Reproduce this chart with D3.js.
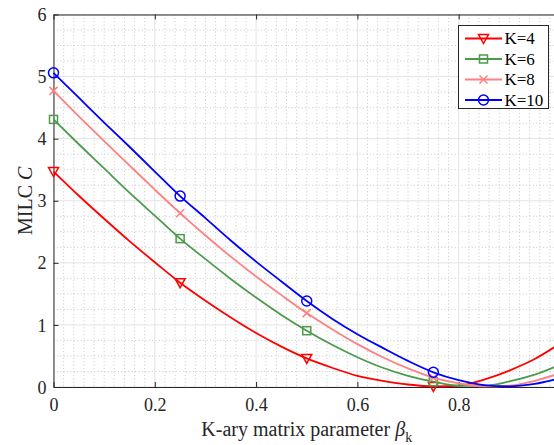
<!DOCTYPE html>
<html>
<head>
<meta charset="utf-8">
<script src="https://cdn.jsdelivr.net/npm/d3@7/dist/d3.min.js"></script>
<style>
  body { margin: 0; background: #fff; }
  svg { display: block; font-family: "Liberation Serif", "Times New Roman", serif; }
</style>
</head>
<body>
<svg id="chart" width="554" height="445"></svg>
<script>
// Sampled K-ary matrix parameter values
const betas = [0, 0.05, 0.1, 0.15, 0.2, 0.25, 0.3, 0.35, 0.4, 0.45, 0.5,
               0.55, 0.6, 0.65, 0.7, 0.75, 0.8, 0.85, 0.9, 0.95, 1.0];

// MILC C for each K
const milcK4  = [3.47, 3.08, 2.71, 2.35, 2.01, 1.68, 1.39, 1.12, 0.87, 0.65, 0.46,
                 0.31, 0.18, 0.10, 0.04, 0.01, 0.02, 0.12, 0.265, 0.45, 0.70];
const milcK6  = [4.31, 3.91, 3.52, 3.13, 2.76, 2.39, 2.06, 1.74, 1.44, 1.16, 0.907,
                 0.68, 0.48, 0.31, 0.18, 0.085, 0.02, 0.02, 0.09, 0.20, 0.36];
const milcK8  = [4.77, 4.36, 3.96, 3.57, 3.18, 2.80, 2.44, 2.10, 1.78, 1.48, 1.19,
                 0.93, 0.69, 0.48, 0.30, 0.15, 0.06, 0.01, 0.02, 0.10, 0.22];
const milcK10 = [5.06, 4.66, 4.26, 3.87, 3.47, 3.075, 2.72, 2.36, 2.02, 1.70, 1.385,
                 1.10, 0.85, 0.63, 0.42, 0.237, 0.11, 0.03, 0.01, 0.05, 0.14];

const seriesNames = ["K=4", "K=6", "K=8", "K=10"];
const seriesColors = ["#ff0000", "#4c9a4c", "#ff8080", "#0000ff"];
const seriesMarkers = ["triangleDown", "square", "cross", "circle"];
const seriesValues = [milcK4, milcK6, milcK8, milcK10];

const xTicks = [0, 0.2, 0.4, 0.6, 0.8, 1];
const xTickLabels = ["0", "0.2", "0.4", "0.6", "0.8", ""];
const yTicks = [0, 1, 2, 3, 4, 5, 6];
const markerEvery = 5;

const svg = d3.select("#chart");
const plotLeft = 53.5, plotRight = 560, plotTop = 14.5, plotBottom = 387;

const x = d3.scaleLinear().domain([0, 1]).range([plotLeft, plotRight]);
const y = d3.scaleLinear().domain([0, 6]).range([plotBottom, plotTop]);

// minor grid (dotted)
const minorX = d3.range(0, 1.0001, 0.02).filter(v => Math.abs(v * 5 - Math.round(v * 5)) > 1e-6);
const minorY = d3.range(0, 6.0001, 0.25).filter(v => Math.abs(v - Math.round(v)) > 1e-6);
const grid = svg.append("g");
grid.selectAll("line.mx").data(minorX).join("line")
  .attr("x1", d => x(d)).attr("x2", d => x(d)).attr("y1", plotTop).attr("y2", plotBottom)
  .attr("stroke", "#c8c8c8").attr("stroke-width", 1).attr("stroke-dasharray", "1,2.4");
grid.selectAll("line.my").data(minorY).join("line")
  .attr("y1", d => y(d)).attr("y2", d => y(d)).attr("x1", plotLeft).attr("x2", plotRight)
  .attr("stroke", "#c8c8c8").attr("stroke-width", 1).attr("stroke-dasharray", "1,2.4");

// major grid (solid)
grid.selectAll("line.gx").data(xTicks).join("line")
  .attr("x1", d => x(d)).attr("x2", d => x(d)).attr("y1", plotTop).attr("y2", plotBottom)
  .attr("stroke", "#e3e3e3").attr("stroke-width", 1);
grid.selectAll("line.gy").data(yTicks).join("line")
  .attr("y1", d => y(d)).attr("y2", d => y(d)).attr("x1", plotLeft).attr("x2", plotRight)
  .attr("stroke", "#e3e3e3").attr("stroke-width", 1);

// axes with inward ticks
const axisColor = "#262626";
const xAxis = svg.append("g").attr("transform", `translate(0,${plotBottom})`)
  .call(d3.axisBottom(x).tickValues(xTicks).tickFormat((d, i) => xTickLabels[i])
    .tickSizeInner(-5).tickSizeOuter(0).tickPadding(11));
const xAxisTop = svg.append("g").attr("transform", `translate(0,${plotTop})`)
  .call(d3.axisTop(x).tickValues(xTicks).tickFormat("").tickSizeInner(-5).tickSizeOuter(0));
const yAxis = svg.append("g").attr("transform", `translate(${plotLeft},0)`)
  .call(d3.axisLeft(y).tickValues(yTicks).tickFormat(d3.format("d"))
    .tickSizeInner(-5).tickSizeOuter(0).tickPadding(7));

[xAxis, xAxisTop, yAxis].forEach(g => {
  g.select(".domain").attr("stroke", axisColor).attr("stroke-width", 1);
  g.selectAll(".tick line").attr("stroke", axisColor).attr("stroke-width", 1);
  g.selectAll(".tick text").attr("fill", axisColor).attr("font-size", 18)
    .attr("font-family", "Liberation Serif, serif");
});
xAxis.selectAll(".tick text").attr("dy", "0.71em");
yAxis.selectAll(".tick text").attr("dy", "0.34em");

// axis titles
svg.append("text")
  .attr("x", (plotLeft + plotRight) / 2).attr("y", 436)
  .attr("text-anchor", "middle").attr("font-size", 20).attr("fill", axisColor)
  .call(t => {
    t.append("tspan").text("K-ary matrix parameter ");
    t.append("tspan").attr("font-style", "italic").text("β");
    t.append("tspan").attr("font-size", 14).attr("dy", 6).text("k");
  });

svg.append("text")
  .attr("transform", `translate(31.5,${(plotTop + plotBottom) / 2}) rotate(-90)`)
  .attr("text-anchor", "middle").attr("font-size", 20).attr("fill", axisColor)
  .call(t => {
    t.append("tspan").text("MILC ");
    t.append("tspan").attr("font-style", "italic").text("C");
  });

// markers
function drawMarker(g, type, color, cx, cy) {
  if (type === "triangleDown") {
    g.append("path")
      .attr("d", `M${cx - 5},${cy - 4} L${cx + 5},${cy - 4} L${cx},${cy + 5} Z`)
      .attr("fill", "none").attr("stroke", color).attr("stroke-width", 1.5);
  } else if (type === "square") {
    g.append("rect").attr("x", cx - 4).attr("y", cy - 4).attr("width", 8).attr("height", 8)
      .attr("fill", "none").attr("stroke", color).attr("stroke-width", 1.5);
  } else if (type === "cross") {
    g.append("path")
      .attr("d", `M${cx - 4},${cy - 4} L${cx + 4},${cy + 4} M${cx - 4},${cy + 4} L${cx + 4},${cy - 4}`)
      .attr("fill", "none").attr("stroke", color).attr("stroke-width", 1.5);
  } else {
    g.append("circle").attr("cx", cx).attr("cy", cy).attr("r", 5)
      .attr("fill", "none").attr("stroke", color).attr("stroke-width", 1.5);
  }
}

// curves
const line = d3.line().x(d => x(d[0])).y(d => y(d[1])).curve(d3.curveMonotoneX);
const plot = svg.append("g");
seriesValues.forEach((vals, i) => {
  const pts = betas.map((b, j) => [b, vals[j]]);
  plot.append("path").datum(pts).attr("d", line)
    .attr("fill", "none").attr("stroke", seriesColors[i]).attr("stroke-width", 1.8);
  const mg = plot.append("g");
  pts.filter((p, j) => j % markerEvery === 0)
    .forEach(p => drawMarker(mg, seriesMarkers[i], seriesColors[i], x(p[0]), y(p[1])));
});

// legend
const lg = svg.append("g");
lg.append("rect").attr("x", 458.5).attr("y", 25.5).attr("width", 90).attr("height", 83)
  .attr("fill", "#fff").attr("stroke", axisColor).attr("stroke-width", 1);
seriesNames.forEach((name, i) => {
  const ly = 38.5 + i * 20.5;
  lg.append("line").attr("x1", 465).attr("x2", 502).attr("y1", ly).attr("y2", ly)
    .attr("stroke", seriesColors[i]).attr("stroke-width", 1.8);
  drawMarker(lg, seriesMarkers[i], seriesColors[i], 483.5, ly);
  lg.append("text").attr("x", 504.5).attr("y", ly).attr("dy", "0.35em")
    .attr("font-size", 17).attr("fill", "#000").text(name);
});
</script>
</body>
</html>
